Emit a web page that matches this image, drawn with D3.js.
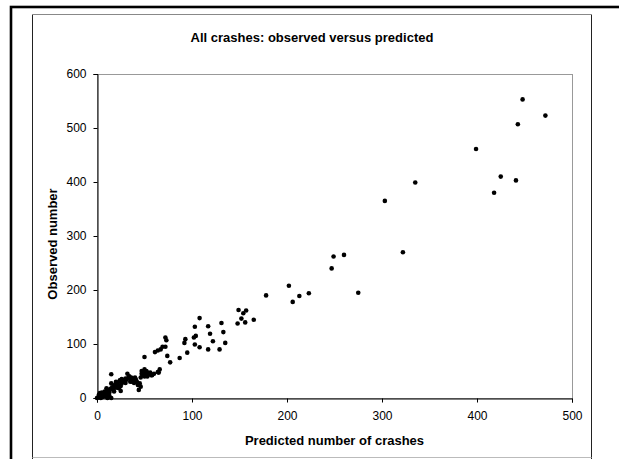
<!DOCTYPE html>
<html>
<head>
<meta charset="utf-8">
<script src="https://cdn.jsdelivr.net/npm/d3@7"></script>
<style>
  body { margin: 0; background: #fff; }
  text { font-family: "Liberation Sans", Arial, sans-serif; }
</style>
</head>
<body>
<div id="chart"></div>
<script>
// predicted vs observed number of crashes
const predicted = [
  448, 472, 443, 399, 425, 441, 418,
  335, 303, 322, 260, 249, 247, 202, 213, 206, 223, 275,
  178, 149, 157, 154, 152, 165, 148, 156, 108, 131, 117, 103, 119, 133,
  104, 102, 93, 92, 103, 108, 122, 135, 117, 129, 95, 87,
  72, 73, 72, 74, 77, 67, 64, 61, 69, 50, 66, 64, 65, 56, 50, 47, 52, 48,
  54, 57, 53, 46, 45, 46, 44, 42, 15, 32, 34, 35, 30, 36, 38, 40, 28, 24,
  26, 23, 25, 15, 10, 3, 8, 12, 15, 0,
  1, 2, 4, 5, 6, 7, 9, 10, 11, 12, 13, 14, 16, 17, 18, 19, 20, 21, 22, 24,
  25, 27, 29, 31, 33, 37, 39, 2, 5, 8, 11, 13, 18, 20, 26, 30, 35, 41, 43,
  50, 55, 58, 60, 49, 51, 47, 53
];
const observed = [
  553, 523, 507, 461, 410, 403, 380,
  399, 365, 270, 265, 262, 240, 208, 189, 178, 194, 195,
  190, 163, 162, 157, 147, 145, 138, 140, 148, 139, 133, 132, 119, 122,
  115, 112, 109, 102, 99, 94, 105, 102, 90, 90, 84, 74,
  112, 107, 95, 78, 66, 90, 88, 85, 95, 76, 53, 48, 47, 47, 53, 45, 50, 42,
  44, 42, 40, 38, 27, 21, 15, 30, 44, 45, 40, 35, 36, 38, 33, 38, 32, 33,
  27, 18, 13, 27, 18, 9, 6, 2, 0, 0,
  1, 3, 0, 5, 2, 8, 3, 12, 7, 14, 10, 17, 20, 15, 22, 25, 19, 28, 24, 30,
  22, 33, 30, 34, 38, 30, 28, 6, 10, 12, 0, 4, 12, 30, 35, 28, 30, 34, 24,
  40, 45, 42, 45, 48, 43, 50, 47
];
const xTicks = [0, 100, 200, 300, 400, 500];
const yTicks = [0, 100, 200, 300, 400, 500, 600];

const W = 619, H = 459;
const svg = d3.select("#chart").append("svg")
    .attr("width", W)
    .attr("height", H);

svg.append("rect").attr("width", W).attr("height", H).attr("fill", "#fff");

// thick outer frame (only left and top are inside the picture)
svg.append("rect")
    .attr("x", 11).attr("y", 7)
    .attr("width", 660).attr("height", 500)
    .attr("fill", "none")
    .attr("stroke", "#000")
    .attr("stroke-width", 2.6);

// chart area frame
const frame = svg.append("g").attr("stroke-width", 1);
frame.append("line").attr("x1", 32.5).attr("x2", 32.5).attr("y1", 14.5).attr("y2", 459).attr("stroke", "#222");
frame.append("line").attr("x1", 591.5).attr("x2", 591.5).attr("y1", 14.5).attr("y2", 459).attr("stroke", "#222");
frame.append("line").attr("x1", 32.5).attr("x2", 591.5).attr("y1", 14.5).attr("y2", 14.5).attr("stroke", "#888");
frame.append("line").attr("x1", 32.5).attr("x2", 591.5).attr("y1", 457.5).attr("y2", 457.5).attr("stroke", "#bbb");

const x = d3.scaleLinear().domain([0, 500]).range([97, 572]);
const y = d3.scaleLinear().domain([0, 600]).range([398, 74]);

// plot area border
svg.append("rect")
    .attr("x", x(0) + 0.5).attr("y", y(600) + 0.5)
    .attr("width", x(500) - x(0)).attr("height", y(0) - y(600))
    .attr("fill", "none")
    .attr("stroke", "#999");

const xAxis = svg.append("g")
    .attr("transform", `translate(0,${y(0) + 0.5})`)
    .call(d3.axisBottom(x).tickValues(xTicks).tickSize(4).tickPadding(9));

const yAxis = svg.append("g")
    .attr("transform", `translate(${x(0) + 0.5},0)`)
    .call(d3.axisLeft(y).tickValues(yTicks).tickSize(4).tickPadding(7));

[xAxis, yAxis].forEach(a => {
    a.select(".domain").attr("stroke", "#000");
    a.selectAll(".tick line").attr("stroke", "#000");
    a.selectAll("text")
        .attr("fill", "#000")
        .style("font-family", "'Liberation Sans', Arial, sans-serif")
        .style("font-size", "12px");
});

// points
svg.append("g")
    .selectAll("circle")
    .data(predicted.map((p, i) => [p, observed[i]]))
    .join("circle")
    .attr("cx", d => x(d[0]))
    .attr("cy", d => y(d[1]))
    .attr("r", 2.3)
    .attr("fill", "#000");

// titles
svg.append("text")
    .attr("x", 312).attr("y", 37)
    .attr("text-anchor", "middle")
    .attr("dominant-baseline", "central")
    .style("font-size", "13px")
    .style("font-weight", "bold")
    .text("All crashes: observed versus predicted");

svg.append("text")
    .attr("x", (x(0) + x(500)) / 2).attr("y", 440)
    .attr("text-anchor", "middle")
    .attr("dominant-baseline", "central")
    .style("font-size", "13px")
    .style("font-weight", "bold")
    .text("Predicted number of crashes");

svg.append("text")
    .attr("transform", "translate(52,244) rotate(-90)")
    .attr("text-anchor", "middle")
    .attr("dominant-baseline", "central")
    .style("font-size", "13px")
    .style("font-weight", "bold")
    .text("Observed number");
</script>
</body>
</html>
